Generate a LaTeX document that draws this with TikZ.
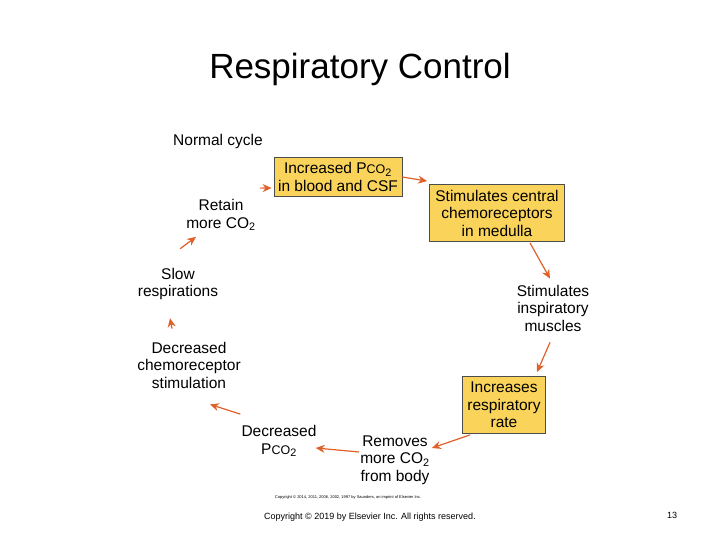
\documentclass[tikz,border=0pt]{standalone}
\usepackage{fontspec}
\setmainfont{Liberation Sans}
\usetikzlibrary{arrows.meta,calc}
\newcommand{\pco}{P{\fontsize{12.5}{13}\selectfont CO}\textsubscript{2}}
\begin{document}
\begin{tikzpicture}[x=1pt,y=-1pt,
  lab/.style={align=center,font=\fontsize{15.5}{17.5}\selectfont,inner sep=1pt},
  box/.style={lab,draw=black!70,fill={rgb,255:red,250;green,212;blue,90},line width=0.8pt,inner sep=1pt},
  arr/.style={draw={rgb,255:red,224;green,96;blue,42},line width=1.2pt,-{Stealth[length=9pt,width=8pt]}}]
\useasboundingbox (0,0) rectangle (720,540);
\node[font=\fontsize{35}{38}\selectfont] (title) at (360,69) {Respiratory Control};
\node[lab,anchor=west] (nc) at (172,141) {Normal cycle};
\node[box,minimum width=128pt,minimum height=39pt] (b1) at (338,177) {Increased \pco\\in blood and CSF};
\node[box,minimum width=135pt,minimum height=57pt] (b2) at (497,213) {Stimulates central\\chemoreceptors\\in medulla};
\node[lab] (m) at (553,308) {Stimulates\\inspiratory\\muscles};
\node[box,minimum width=83pt,minimum height=57pt] (b3) at (504,405) {Increases\\respiratory\\rate};
\node[lab] (r) at (395,460) {Removes\\more CO\textsubscript{2}\\from body};
\node[lab] (d) at (279,441) {Decreased\\\pco};
\node[lab] (c) at (189,365) {Decreased\\chemoreceptor\\stimulation};
\node[lab] (s) at (178,284) {Slow\\respirations};
\node[lab] (t) at (221,215) {Retain\\more CO\textsubscript{2}};
\node[font=\fontsize{4}{5}\selectfont] (cp1) at (348,497) {Copyright \textcopyright\ 2014, 2011, 2006, 2002, 1997 by Saunders, an imprint of Elsevier Inc.};
\node[font=\fontsize{9}{10}\selectfont] (cp2) at (370,517) {Copyright \textcopyright\ 2019 by Elsevier Inc. All rights reserved.};
\node[font=\fontsize{9}{10}\selectfont] (pg) at (672,515) {13};
\draw[arr] (b1.east) -- ($(b2.north west)+(-2,-3)$);
\draw[arr] ($(b2.south)+(33,1)$) -- ($(m.north)+(-3,-5)$);
\draw[arr] ($(m.south)+(-3,10)$) -- ($(b3.north)+(33,-4)$);
\draw[arr] ($(b3.south)+(-34,1)$) -- ($(r.east)+(1,-12)$);
\draw[arr] ($(r.west)+(0,-8)$) -- ($(d.east)+(-2,7)$);
\draw[arr] ($(d.north west)+(0,-10)$) -- ($(c.south)+(21,15)$);
\draw[arr] ($(c.north)+(-17,-12)$) -- ($(s.south)+(-8,17)$);
\draw[arr] ($(s.north)+(2,-18)$) -- ($(t.south)+(-25,5)$);
\draw[arr] ($(t.north east)+(3,-10)$) -- ($(b1.west)+(-2,11)$);
\end{tikzpicture}
\end{document}
